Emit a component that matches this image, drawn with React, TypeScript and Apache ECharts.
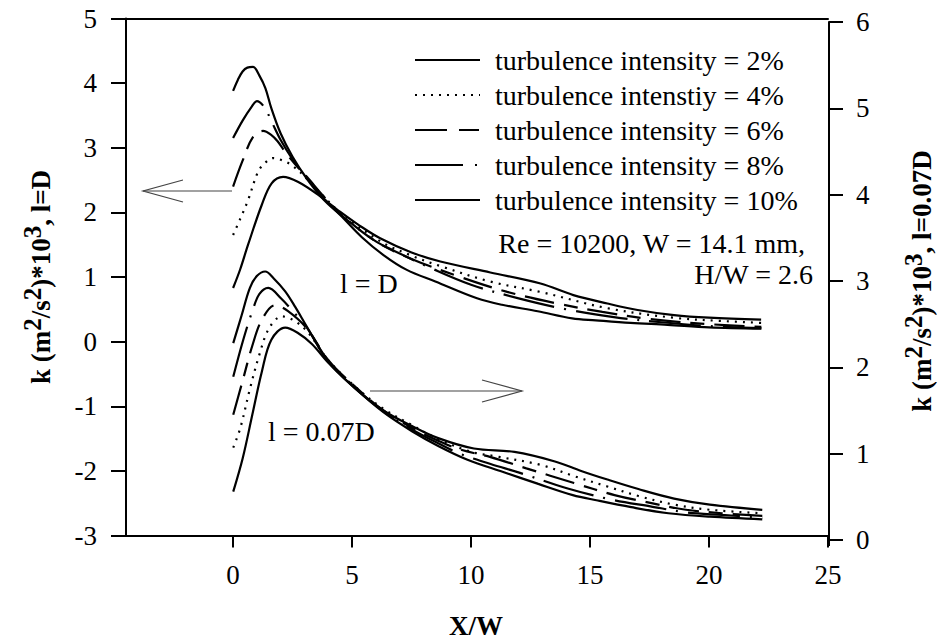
import React, { useEffect, useRef } from 'react';
import * as echarts from 'echarts';

const FONT = 'Liberation Serif';

const legendNames = [
  'turbulence intensity = 2%',
  'turbulence intenstiy = 4%',
  'turbulence intensity = 6%',
  'turbulence intensity = 8%',
  'turbulence intensity = 10%',
];

const xTicks = [0, 5, 10, 15, 20, 25];

// upper family, l = D (left axis)
const upper2 = [[0,0.83],[0.3,1.12],[0.63,1.5],[1.2,2.11],[1.62,2.45],[2.1,2.55],[2.74,2.47],[3.58,2.27],[4.49,2.01],[5.3,1.8],[6.18,1.6],[7.5,1.38],[8.71,1.24],[10.81,1.07],[12.92,0.9],[14.3,0.72],[15.73,0.59],[17,0.49],[18.53,0.41],[20,0.37],[22.19,0.34]];
const upper4 = [[0,1.65],[0.3,1.9],[0.63,2.19],[1.05,2.63],[1.33,2.76],[1.68,2.84],[2.1,2.8],[2.46,2.73],[3.09,2.53],[3.8,2.25],[4.5,2.0],[6.2,1.55],[7.5,1.33],[8.7,1.17],[10.8,0.93],[12.9,0.77],[15.7,0.52],[18.5,0.37],[20.5,0.32],[22.2,0.29]];
const upper6 = [[0,2.4],[0.4,2.8],[0.84,3.17],[1.26,3.26],[1.6,3.2],[1.87,3.1],[2.18,2.94],[2.6,2.75],[3.1,2.55],[3.8,2.25],[4.5,1.98],[6,1.55],[7.5,1.28],[9.55,1.0],[11.52,0.77],[13.62,0.59],[15.52,0.46],[17.48,0.35],[20,0.27],[22.2,0.23]];
const upper8 = [[0,3.15],[0.4,3.42],[0.77,3.63],[1.0,3.72],[1.31,3.63],[1.6,3.42],[2.0,3.12],[2.5,2.82],[3.1,2.52],[3.8,2.22],[4.5,1.97],[6,1.55],[6.8,1.4],[8.3,1.14],[10,0.88],[12,0.67],[14,0.5],[16,0.38],[18,0.3],[20,0.24],[22.2,0.21]];
const upper10 = [[0,3.88],[0.2,4.05],[0.4,4.18],[0.6,4.24],[0.84,4.25],[1.1,4.12],[1.36,3.92],[1.6,3.62],[2.0,3.22],[2.5,2.86],[3.1,2.52],[3.8,2.2],[4.5,1.96],[5.4,1.62],[6.32,1.34],[7.3,1.11],[8.5,0.93],[10.25,0.67],[11.3,0.57],[12.8,0.47],[14.25,0.36],[15.24,0.33],[16.7,0.29],[18.26,0.26],[20,0.22],[22.2,0.2]];

// lower family, l = 0.07D (right axis)
const lower2 = [[0,0.56],[0.4,0.95],[0.8,1.45],[1.2,1.95],[1.6,2.32],[2.18,2.46],[2.7,2.4],[3.3,2.27],[4,2.05],[5.1,1.76],[6.3,1.5],[7.5,1.32],[8.6,1.18],[10.1,1.06],[11.8,1.02],[13.5,0.91],[14.6,0.8],[15.7,0.7],[17,0.59],[18.5,0.48],[20,0.41],[22.2,0.35]];
const lower4 = [[0,1.07],[0.3,1.3],[0.7,1.75],[1.1,2.15],[1.5,2.45],[2.04,2.59],[2.5,2.55],[3.09,2.42],[4,2.08],[5.1,1.78],[6.3,1.52],[7.5,1.33],[8.6,1.17],[10,1.02],[11,0.97],[12.9,0.87],[14.3,0.74],[15.7,0.62],[17,0.51],[18.5,0.41],[20,0.35],[22.2,0.31]];
const lower6 = [[0,1.45],[0.4,1.85],[0.8,2.25],[1.2,2.55],[1.76,2.72],[2.3,2.65],[3.09,2.45],[4,2.08],[5.1,1.78],[6.3,1.5],[7.5,1.3],[8.6,1.15],[9.5,1.05],[10.8,0.96],[12.3,0.83],[14.3,0.66],[16,0.52],[17.5,0.43],[19,0.35],[20.5,0.31],[22.2,0.28]];
const lower8 = [[0,1.89],[0.4,2.3],[0.8,2.65],[1.1,2.85],[1.47,2.92],[2,2.8],[2.6,2.62],[3.09,2.46],[4,2.07],[5.1,1.77],[6.3,1.49],[7.5,1.28],[8.6,1.12],[9.5,1.0],[10.8,0.88],[12,0.78],[14,0.6],[16,0.46],[17.5,0.39],[19,0.32],[20.5,0.29],[22.2,0.26]];
const lower10 = [[0,2.28],[0.35,2.6],[0.7,2.92],[1.0,3.06],[1.34,3.11],[1.7,3.03],[2.18,2.88],[2.6,2.7],[3.09,2.47],[4,2.06],[5.1,1.76],[6.3,1.48],[7.5,1.26],[8.6,1.09],[9.83,0.93],[11.3,0.79],[12.8,0.65],[14.25,0.52],[15.24,0.46],[16.7,0.38],[18.26,0.31],[20,0.27],[22.2,0.24]];

const upperSets = [upper2, upper4, upper6, upper8, upper10];
const lowerSets = [lower2, lower4, lower6, lower8, lower10];
const dashTypes: any[] = ['solid', [2, 6], [30, 10, 14, 10], [52, 10, 2, 10], 'solid'];
const legendDashes: any[] = [null, [2, 6], [32, 12, 20, 12], [48, 12, 2, 12], null];

export default function App() {
  const ref = useRef<HTMLDivElement>(null);
  useEffect(() => {
    const chart = echarts.init(ref.current!, null, { renderer: 'svg' });
    const series: any[] = [];
    upperSets.forEach((d, i) => {
      series.push({
        type: 'line', name: legendNames[i], data: d, xAxisIndex: 0, yAxisIndex: 0,
        showSymbol: false, symbol: 'none', smooth: 0.35,
        lineStyle: { color: '#000', width: 2.2, type: dashTypes[i] },
      });
    });
    lowerSets.forEach((d, i) => {
      series.push({
        type: 'line', name: legendNames[i], data: d, xAxisIndex: 2, yAxisIndex: 1,
        showSymbol: false, symbol: 'none', smooth: 0.35,
        lineStyle: { color: '#000', width: 2.2, type: dashTypes[i] },
      });
    });

    const axisLine = { show: true, onZero: false, lineStyle: { color: '#000', width: 2 } };
    const labelStyle = { fontFamily: FONT, fontSize: 27, color: '#000' };

    const titleRich = {
      b: { fontFamily: FONT, fontSize: 27, fontWeight: 'bold', color: '#000', verticalAlign: 'bottom', lineHeight: 27 },
      s: { fontFamily: FONT, fontSize: 25, fontWeight: 'bold', color: '#000', verticalAlign: 'top', lineHeight: 35 },
    };
    const textStyle = (text: string, align: string) => ({
      text, fontFamily: FONT, fontSize: 28, fill: '#000', align, verticalAlign: 'middle',
    });

    const legendGraphics: any[] = [];
    legendNames.forEach((n, i) => {
      const y = 60 + i * 35;
      legendGraphics.push({
        type: 'line', shape: { x1: 415, y1: y, x2: 480, y2: y },
        style: { stroke: '#000', lineWidth: 2.2, lineDash: legendDashes[i] },
      });
      legendGraphics.push({ type: 'text', x: 495, y, style: textStyle(n, 'left') });
    });

    const option: any = {
      animation: false,
      backgroundColor: '#fff',
      grid: [
        { left: 126, right: 109, top: 18.5, bottom: 107.5 },
        { left: 126, right: 108, top: 22, bottom: 103 },
      ],
      xAxis: [
        {
          type: 'value', gridIndex: 0, position: 'bottom', min: -4.5, max: 25,
          axisLine, splitLine: { show: false },
          axisTick: { show: true, inside: false, length: 12, customValues: xTicks, lineStyle: { color: '#000', width: 2 } },
          axisLabel: { ...labelStyle, margin: 26, customValues: xTicks },
        },
        {
          type: 'value', gridIndex: 0, position: 'top', min: -4.5, max: 25,
          axisLine, splitLine: { show: false }, axisTick: { show: false }, axisLabel: { show: false },
        },
        {
          type: 'value', gridIndex: 1, min: -4.5, max: 25, show: false,
        },
      ],
      yAxis: [
        {
          type: 'value', gridIndex: 0, position: 'left', min: -3, max: 5, interval: 1,
          axisLine, splitLine: { show: false },
          axisTick: { show: true, inside: false, length: 15, lineStyle: { color: '#000', width: 2 } },
          axisLabel: { ...labelStyle, margin: 29 },
        },
        {
          type: 'value', gridIndex: 1, position: 'right', min: 0, max: 6, interval: 1,
          axisLine, splitLine: { show: false },
          axisTick: { show: true, inside: false, length: 14, lineStyle: { color: '#000', width: 2 } },
          axisLabel: { ...labelStyle, margin: 27 },
        },
      ],
      graphic: [
        ...legendGraphics,
        { type: 'line', shape: { x1: 829, y1: 538, x2: 829, y2: 546 }, style: { stroke: '#000', lineWidth: 2 } },
        { type: 'line', shape: { x1: 232, y1: 191, x2: 143, y2: 191 }, style: { stroke: '#444', lineWidth: 1.2 } },
        { type: 'polyline', shape: { points: [[183, 180], [143, 191], [183, 202]] }, style: { stroke: '#444', lineWidth: 1.2, fill: null } },
        { type: 'line', shape: { x1: 370, y1: 391, x2: 522, y2: 391 }, style: { stroke: '#444', lineWidth: 1.2 } },
        { type: 'polyline', shape: { points: [[482, 380], [522, 391], [482, 402]] }, style: { stroke: '#444', lineWidth: 1.2, fill: null } },
        { type: 'text', x: 805, y: 243, style: textStyle('Re = 10200, W = 14.1 mm,', 'right') },
        { type: 'text', x: 813, y: 274, style: textStyle('H/W = 2.6', 'right') },
        { type: 'text', x: 340, y: 283, style: textStyle('l = D', 'left') },
        { type: 'text', x: 268, y: 431, style: textStyle('l = 0.07D', 'left') },
        {
          type: 'text', x: 476, y: 626,
          style: { text: 'X/W', fontFamily: FONT, fontSize: 27, fontWeight: 'bold', fill: '#000', align: 'center', verticalAlign: 'middle' },
        },
        {
          type: 'text', x: 37, y: 277, rotation: Math.PI / 2,
          style: { text: '{b|k (m}{s|2}{b|/s}{s|2}{b|)*10}{s|3}{b|, l=D}', rich: titleRich, align: 'center', verticalAlign: 'middle' },
        },
        {
          type: 'text', x: 918, y: 281, rotation: Math.PI / 2,
          style: { text: '{b|k (m}{s|2}{b|/s}{s|2}{b|)*10}{s|3}{b|, l=0.07D}', rich: titleRich, align: 'center', verticalAlign: 'middle' },
        },
      ],
      series,
    };
    chart.setOption(option);
    return () => chart.dispose();
  }, []);
  return <div ref={ref} style={{ position: 'fixed', left: 0, top: 0, width: 937, height: 643, background: '#fff' }} />;
}
